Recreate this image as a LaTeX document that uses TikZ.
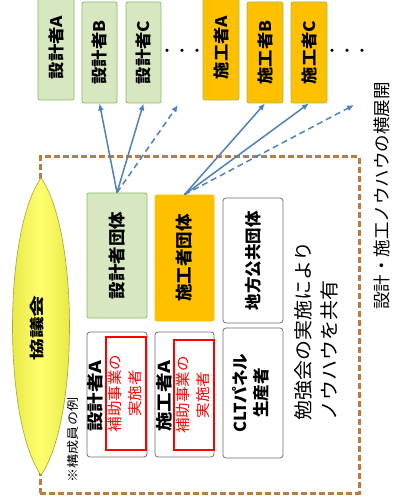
\documentclass[tikz,border=0pt]{standalone}
\usepackage{fontspec}
\setmainfont{Noto Sans CJK JP}
\usetikzlibrary{arrows.meta}
\definecolor{gfill}{HTML}{D7E8C1}
\definecolor{gline}{HTML}{8DB860}
\definecolor{ofill}{HTML}{FFC000}
\definecolor{oline}{HTML}{A8B848}
\definecolor{bline}{HTML}{4F81BD}
\definecolor{dbrown}{HTML}{BF7A40}
\definecolor{grayline}{HTML}{6F6F6F}
\definecolor{lensedge}{HTML}{E2E23C}
\definecolor{lensmid}{HTML}{FFFF6E}
\definecolor{lensline}{HTML}{A5A535}
\newcommand{\vt}[4]{\rotatebox{90}{\scalebox{#1}[1]{\fontsize{#2}{#3}\selectfont #4}}}
\begin{document}
\begin{tikzpicture}[x=1pt,y=-1pt,
  gbox/.style={draw=gline, fill=gfill, line width=0.8pt, rounded corners=2pt, inner sep=0pt},
  obox/.style={draw=oline, fill=ofill, line width=0.8pt, rounded corners=2pt, inner sep=0pt},
  o2box/.style={draw=ofill, fill=ofill, line width=0.8pt, rounded corners=2pt, inner sep=0pt},
  wbox/.style={draw=grayline, fill=white, line width=0.8pt, rounded corners=3pt, inner sep=0pt},
  rbox/.style={draw=red, line width=2pt, inner sep=0pt},
  lbl/.style={inner sep=0pt},
  arr/.style={draw=bline, line width=1.5pt, -{Latex[length=7pt,width=6pt]}},
  darr/.style={arr, dash pattern=on 6pt off 4pt},
  topw/.style={minimum width=35pt, minimum height=101pt},
  midw/.style={minimum width=60pt, minimum height=125pt}
]
\useasboundingbox (0,0) rectangle (395,502);
\clip (0,0) rectangle (395,502);
\fill[white] (0,0) rectangle (395,502);

% dashed frame
\node[draw=dbrown, line width=3pt, dash pattern=on 6pt off 3pt, minimum width=319pt, minimum height=336pt, inner sep=0pt] (frame) at (199.5,325) {};

% top row
\node[gbox, minimum width=36pt, minimum height=105pt] (tdA) at (56,47.5) {\vt{1.08}{16}{16}{\bfseries 設計者A}};
\node[gbox, topw] (tdB) at (99.5,52.5) {\vt{1.08}{16}{16}{\bfseries 設計者B}};
\node[gbox, topw] (tdC) at (143.5,52.5) {\vt{1.08}{16}{16}{\bfseries 設計者C}};
\node[obox, minimum width=36pt, minimum height=105pt] (tsA) at (221,47.5) {\vt{1.08}{16}{16}{\bfseries 施工者A}};
\node[obox, topw, minimum width=36pt] (tsB) at (265,52.5) {\vt{1.08}{16}{16}{\bfseries 施工者B}};
\node[obox, topw, minimum width=36pt] (tsC) at (309,52.5) {\vt{1.08}{16}{16}{\bfseries 施工者C}};
\node[lbl] (dots1) at (182,53) {\fontsize{15}{15}\selectfont ・・・};
\node[lbl] (dots2) at (347,53) {\fontsize{15}{15}\selectfont ・・・};
\coordinate (dnext) at (178,105);
\coordinate (snext) at (354,105);

% middle row
\node[gbox, midw] (dg) at (117,255.5) {\vt{1.03}{17}{17}{\bfseries 設計者団体}};
\node[o2box, minimum width=59pt, minimum height=126pt] (sg) at (184.5,258) {\vt{1.03}{17}{17}{\bfseries 施工者団体}};
\node[wbox, midw] (ch) at (253,260.5) {\vt{1.0}{16.5}{16.5}{\bfseries 地方公共団体}};

% bottom row
\node[wbox, midw] (da) at (117,394.5) {};
\node[rbox, minimum width=39pt, minimum height=113pt] (dar) at (126,393.5) {\vt{1.07}{14.5}{20}{\color{red}\begin{tabular}{@{}c@{}}補助事業の\\実施者\end{tabular}}};
\node[lbl] (dal) at (95.5,396) {\vt{1.18}{16.5}{16.5}{\bfseries 設計者A}};
\node[wbox, minimum width=59pt, minimum height=125pt] (sa) at (184.5,394.5) {};
\node[rbox, minimum width=38pt, minimum height=110pt] (sar) at (194,395) {\vt{1.07}{14.5}{20}{\color{red}\begin{tabular}{@{}c@{}}補助事業の\\実施者\end{tabular}}};
\node[lbl] (sal) at (164.5,396) {\vt{1.18}{16.5}{16.5}{\bfseries 施工者A}};
\node[wbox, minimum width=60pt, minimum height=130pt] (clt) at (253,393) {\vt{1.0}{16.5}{21}{\bfseries\begin{tabular}{@{}c@{}}CLTパネル\\生産者\end{tabular}}};

% texts
\node[lbl] (study) at (318,331) {\vt{1.05}{19}{26}{\begin{tabular}{@{}l@{}}勉強会の実施により\\ノウハウを共有\end{tabular}}};
\node[lbl] (ex) at (73,440) {\vt{1.17}{12}{12}{※構成員の例}};
\node[lbl] (side) at (382,196) {\vt{1.0}{17.5}{17.5}{設計・施工ノウハウの横展開}};

% lens
\path[draw=lensline, line width=0.6pt, left color=lensedge, right color=lensedge, middle color=lensmid]
  (41,178) .. controls (79,232) and (79,421) .. (41,475)
           .. controls (3,421) and (3,232) .. (41,178) -- cycle;
\node[lbl] (kyo) at (37.5,328) {\vt{1.5}{14.5}{14.5}{\bfseries 協議会}};

% arrows
\draw[arr] (dg.north) -- (tdB.south);
\draw[arr] (dg.north) -- (tdC.south);
\draw[darr] (dg.north) -- (dnext);
\draw[arr] (sg.north) -- (tsB.south);
\draw[arr] (sg.north) -- (tsC.south);
\draw[darr] (sg.north) -- (snext);
\end{tikzpicture}
\end{document}
